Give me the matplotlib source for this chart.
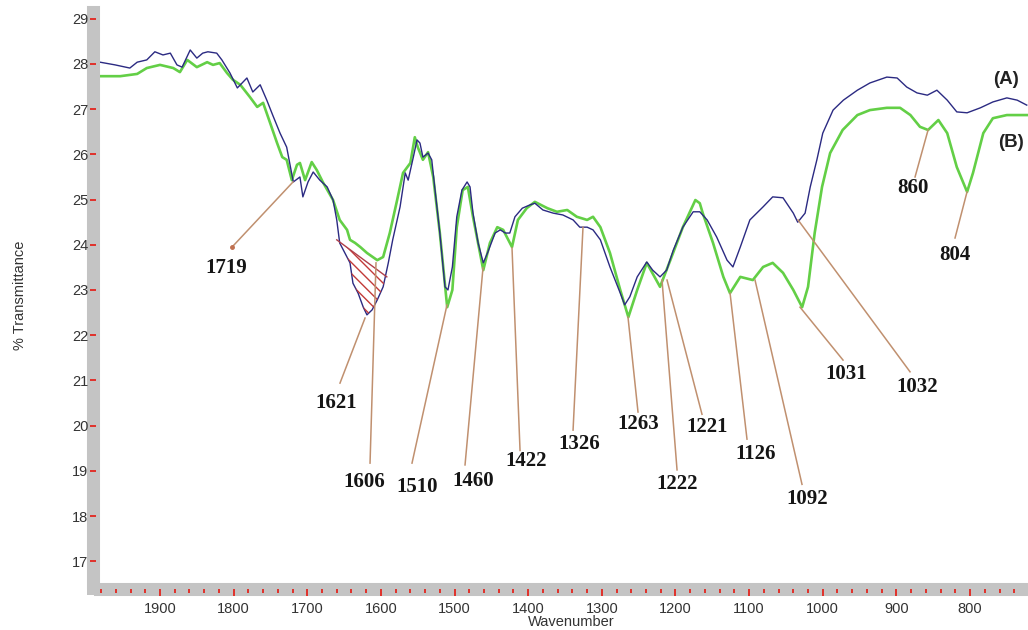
import matplotlib.pyplot as plt
from matplotlib.patches import Rectangle
import numpy as np

# FTIR spectra: wavenumber (cm-1) and % transmittance
wn_a = [1981.5, 1961, 1941, 1931, 1918, 1907, 1896, 1886, 1877, 1870, 1859, 1850, 1842, 1835,
        1823, 1816, 1805, 1795, 1782, 1774, 1764, 1755, 1747, 1737, 1728, 1719, 1710, 1706,
        1699, 1692, 1683, 1673, 1665, 1660, 1656, 1649, 1642, 1638, 1631, 1624, 1619, 1612,
        1605, 1597, 1590, 1584, 1574, 1567, 1563, 1556, 1551, 1547, 1543, 1536, 1531, 1527,
        1520, 1513, 1509, 1503, 1497, 1490, 1483, 1479, 1475, 1468, 1461, 1455, 1445, 1438,
        1431, 1425, 1418, 1408, 1398, 1391, 1380, 1366, 1353, 1339, 1330, 1320, 1312, 1302,
        1289, 1275, 1269, 1262, 1252, 1239, 1231, 1221, 1212, 1203, 1190, 1176, 1167, 1157,
        1144, 1130, 1122, 1112, 1099, 1081, 1068, 1054, 1040, 1034, 1024, 1017, 1008, 1000,
        986, 972, 953, 936, 913, 899, 886, 872, 858, 845, 831, 818, 804, 786, 769, 750, 736, 723]
t_a = [28.04, 27.98, 27.91, 28.04, 28.09, 28.27, 28.20, 28.24, 27.98, 27.93, 28.31, 28.13, 28.24, 28.27,
       28.24, 28.09, 27.80, 27.47, 27.69, 27.38, 27.54, 27.20, 26.87, 26.47, 26.16, 25.39, 25.50, 25.06,
       25.39, 25.61, 25.43, 25.28, 24.99, 24.55, 24.04, 23.82, 23.60, 23.15, 22.93, 22.62, 22.45, 22.56,
       22.78, 23.07, 23.60, 24.11, 24.84, 25.59, 25.43, 25.94, 26.32, 26.25, 25.94, 26.03, 25.88, 25.28,
       24.26, 23.07, 23.00, 23.51, 24.62, 25.21, 25.39, 25.28, 24.70, 24.04, 23.60, 23.83, 24.26, 24.33,
       24.26, 24.26, 24.62, 24.81, 24.88, 24.92, 24.77, 24.70, 24.66, 24.55, 24.39, 24.39, 24.33, 24.11,
       23.51, 22.93, 22.67, 22.85, 23.29, 23.62, 23.44, 23.29, 23.44, 23.88, 24.39, 24.73, 24.73, 24.55,
       24.17, 23.66, 23.51, 23.95, 24.55, 24.84, 25.06, 25.04, 24.70, 24.50, 24.70, 25.28, 25.88, 26.47,
       26.98, 27.20, 27.42, 27.58, 27.71, 27.69, 27.49, 27.36, 27.31, 27.42, 27.20, 26.94, 26.92, 27.03,
       27.16, 27.25, 27.20, 27.09]

wn_b = [1981.5, 1954, 1931, 1918, 1900, 1882, 1873, 1863, 1850, 1836, 1828, 1819, 1809, 1801,
        1791, 1778, 1768, 1760, 1751, 1741, 1734, 1728, 1721, 1714, 1710, 1703, 1694, 1687,
        1679, 1665, 1656, 1646, 1642, 1635, 1628, 1619, 1605, 1597, 1588, 1578, 1570, 1560,
        1554, 1550, 1543, 1536, 1529, 1520, 1510, 1503, 1497, 1489, 1482, 1475, 1461, 1452,
        1442, 1434, 1422, 1414, 1402, 1391, 1374, 1361, 1347, 1334, 1320, 1312, 1302, 1289,
        1275, 1264, 1252, 1239, 1221, 1207, 1190, 1173, 1167, 1163, 1149, 1135, 1126, 1112,
        1095, 1081, 1068, 1054, 1040, 1028, 1020, 1011, 1001, 990, 973, 953, 936, 913, 895,
        881, 868, 857, 843, 831, 818, 804, 796, 782, 769, 750, 723]
t_b = [27.73, 27.73, 27.78, 27.91, 27.98, 27.91, 27.82, 28.09, 27.93, 28.04, 27.98, 28.02, 27.80, 27.65,
       27.54, 27.27, 27.05, 27.14, 26.72, 26.25, 25.94, 25.88, 25.43, 25.77, 25.81, 25.43, 25.83, 25.65,
       25.39, 24.99, 24.55, 24.33, 24.11, 24.04, 23.95, 23.82, 23.66, 23.73, 24.26, 24.99, 25.59, 25.81,
       26.38, 26.16, 25.88, 26.05, 25.50, 24.26, 22.62, 23.00, 24.39, 25.21, 25.28, 24.62, 23.44, 24.04,
       24.39, 24.33, 23.95, 24.55, 24.81, 24.95, 24.81, 24.73, 24.77, 24.62, 24.55, 24.62, 24.39, 23.82,
       23.00, 22.40, 23.00, 23.60, 23.07, 23.66, 24.39, 24.99, 24.92, 24.70, 24.04, 23.29, 22.93, 23.29,
       23.22, 23.51, 23.60, 23.38, 23.00, 22.62, 23.07, 24.26, 25.28, 26.03, 26.54, 26.87, 26.98, 27.03, 27.03,
       26.87, 26.61, 26.54, 26.76, 26.47, 25.72, 25.17, 25.59, 26.47, 26.80, 26.87, 26.87]

# peak labels: (text, point on curve, end of leader, label centre)
peaks = [
    ('1719', (1719.4, 25.39), (1802.2, 23.95), (1810.4, 23.49)),
    ('1621', (1621.6, 22.38), (1655.6, 20.94), (1660.3, 20.51)),
    ('1606', (1606.7, 23.60), (1614.8, 19.17), (1623.0, 18.75)),
    ('1510', (1510.3, 22.67), (1557.8, 19.17), (1551.0, 18.64)),
    ('1460', (1461.4, 23.49), (1485.8, 19.13), (1475.0, 18.77)),
    ('1422', (1422.0, 23.93), (1411.1, 19.45), (1403.0, 19.22)),
    ('1326', (1325.6, 24.39), (1339.1, 19.90), (1331.0, 19.59)),
    ('1263', (1264.5, 22.40), (1250.9, 20.30), (1250.9, 20.04)),
    ('1222', (1218.3, 23.22), (1197.9, 19.02), (1197.9, 18.71)),
    ('1221', (1211.5, 23.22), (1164.0, 20.25), (1157.2, 19.97)),
    ('1126', (1125.9, 22.93), (1102.9, 19.70), (1090.6, 19.37)),
    ('1092', (1092.0, 23.22), (1028.2, 18.70), (1021.4, 18.38)),
    ('1031', (1030.9, 22.62), (972.5, 21.45), (968.4, 21.14)),
    ('1032', (1033.6, 24.55), (881.5, 21.19), (872.0, 20.85)),
    ('860', (857.0, 26.54), (874.7, 25.50), (877.4, 25.26)),
    ('804', (804.1, 25.17), (820.4, 24.15), (820.4, 23.77)),
]

wn_a = np.asarray(wn_a)
t_a = np.asarray(t_a)

fig = plt.figure(figsize=(10.28, 6.3), dpi=100)
ax = fig.add_axes([100 / 1028, 48 / 630, 928 / 1028, 570 / 630])

ax.plot(wn_b, t_b, color='#63cf46', lw=1.9, zorder=2)
ax.plot(wn_a, t_a, color='#2b2a82', lw=1.0, zorder=3)

# hatched band under the 1621 shoulder
plt.rcParams['hatch.linewidth'] = 1.0
m = (wn_a <= 1660) & (wn_a >= 1590)
base = 24.11 + (wn_a[m] - 1660) * (24.11 - 23.29) / (1660 - 1592)
ax.fill_between(wn_a[m], t_a[m], base, where=t_a[m] < base, interpolate=True,
                facecolor='none', edgecolor='#c23a38', hatch='\\\\\\', linewidth=0, zorder=4)
ax.plot([1660, 1592], [24.11, 23.29], color='#b0404a', lw=1.0, zorder=4)

for txt, p, e, lab in peaks:
    ax.plot([p[0], e[0]], [p[1], e[1]], color='#c0906f', lw=1.1, zorder=5)
    ax.text(lab[0], lab[1], txt, ha='center', va='center', fontsize=15, fontweight='bold',
            family='Liberation Serif', color='#151515', zorder=6)
ax.plot(1802.2, 23.95, 'o', ms=2.5, color='#c07050', zorder=5)

ax.text(769, 27.65, '(A)', ha='left', va='center', fontsize=13.5, fontweight='bold',
        family='Liberation Sans', color='#222222')
ax.text(762, 26.27, '(B)', ha='left', va='center', fontsize=13.5, fontweight='bold',
        family='Liberation Sans', color='#222222')

ax.set_xlim(1981.5, 721.3)
ax.set_ylim(16.54, 29.15)
ax.set_xticks(np.arange(1900, 750, -100))
ax.set_xticks(np.arange(1980, 720, -20), minor=True)
ax.set_yticks(np.arange(17, 30, 1))

for s in ['top', 'right']:
    ax.spines[s].set_visible(False)
for s in ['left', 'bottom']:
    ax.spines[s].set_color('#c4c4c4')
    ax.spines[s].set_linewidth(9.4)
    ax.spines[s].set_position(('outward', 4.7))
    ax.spines[s].set_zorder(1)
fig.add_artist(Rectangle((87 / 1028, 35 / 630), 13 / 1028, 13 / 630,
                         transform=fig.transFigure, color='#c4c4c4', lw=0, zorder=0))

ax.tick_params(axis='y', direction='inout', length=4.5, width=1.4, color='#e0302a',
               labelsize=10.5, labelcolor='#333333', pad=1.5)
ax.tick_params(axis='x', which='major', direction='out', length=5, width=1.4, color='#e0302a',
               labelsize=10.5, labelcolor='#333333', pad=5)
ax.tick_params(axis='x', which='minor', direction='out', length=3, width=1.4, color='#e0302a')
for lbl in ax.get_xticklabels() + ax.get_yticklabels():
    lbl.set_family('Liberation Sans')

fig.text(571 / 1028, 1 - 622 / 630, 'Wavenumber', ha='center', va='center',
         fontsize=10.5, family='Liberation Sans', color='#333333')
fig.text(20 / 1028, 1 - 295 / 630, '% Transmittance', ha='center', va='center', rotation=90,
         fontsize=10.5, family='Liberation Sans', color='#333333')

plt.savefig('out.png', dpi=100)
plt.close()
